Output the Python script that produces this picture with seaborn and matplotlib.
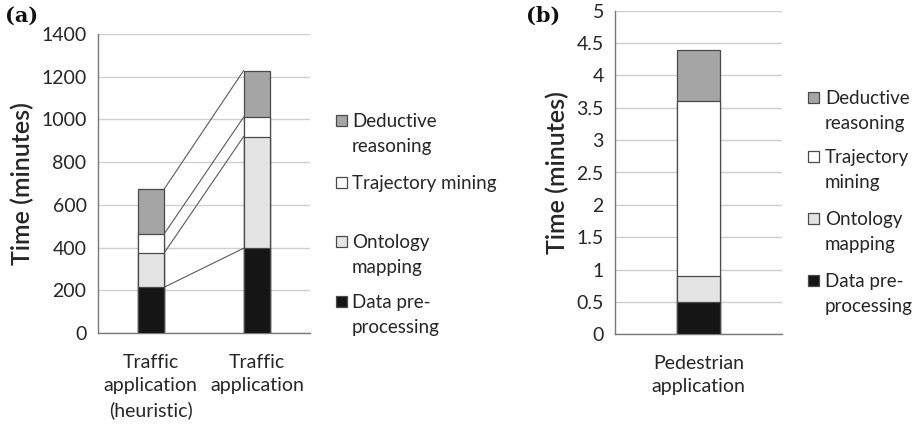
import numpy as np
import pandas as pd
import matplotlib
matplotlib.use("Agg")
import matplotlib.pyplot as plt
import seaborn as sns
from matplotlib.patches import Rectangle
from matplotlib.ticker import FuncFormatter

sns.set_theme(style="white")
plt.rcParams["font.family"] = ["Lato", "DejaVu Sans"]

# data
stages = ["Data pre-processing", "Ontology mapping", "Trajectory mining", "Deductive reasoning"]
stage_colors = ["#151515", "#e4e4e4", "#ffffff", "#a5a5a5"]

apps_a = ["Traffic\napplication\n(heuristic)", "Traffic\napplication"]
data_pre_a = [214, 397]
ontology_a = [160, 523]
trajectory_a = [89, 91]
deductive_a = [210, 218]

apps_b = ["Pedestrian\napplication"]
data_pre_b = [0.5]
ontology_b = [0.4]
trajectory_b = [2.7]
deductive_b = [0.8]

W, H = 921, 425
fig = plt.figure(figsize=(W / 100, H / 100), dpi=100)
TXT = "#262626"


def px(x, y):
    return x / W, 1 - y / H


def stacked(ax, apps, layers, width):
    cum = np.cumsum(np.array(layers, dtype=float), axis=0)
    # draw from the top segment down so lower segments sit on top
    for i in range(len(layers) - 1, -1, -1):
        df = pd.DataFrame({"app": apps, "val": cum[i]})
        sns.barplot(data=df, x="app", y="val", color=stage_colors[i], width=width,
                    edgecolor="#4a4a4a", linewidth=0.9, ax=ax, zorder=3,
                    saturation=1)
    return cum


def style(ax):
    ax.grid(axis="y", color="#cfcfcf", linewidth=1.0, zorder=0)
    ax.grid(axis="x", visible=False)
    for s in ["top", "right"]:
        ax.spines[s].set_visible(False)
    for s in ["left", "bottom"]:
        ax.spines[s].set_color("#7a7a7a")
        ax.spines[s].set_linewidth(1.0)
    ax.tick_params(axis="y", length=4, color="#7a7a7a", labelsize=14, labelcolor=TXT, pad=4)
    ax.tick_params(axis="x", length=0, labelsize=14, labelcolor=TXT, pad=15)
    for lab in ax.get_xticklabels():
        lab.set_linespacing(1.45)
    ax.set_xlabel("")
    ax.set_ylabel("Time (minutes)", fontsize=18, color=TXT, fontweight="semibold", labelpad=5)


# ---- panel (a)
ax1 = fig.add_axes([97.7 / W, 1 - 333 / H, 212.3 / W, 299 / H])
layers_a = [data_pre_a, ontology_a, trajectory_a, deductive_a]
cum_a = stacked(ax1, apps_a, layers_a, 0.25)
# series lines between the two stacks
for row in cum_a:
    ax1.plot([0.125, 0.875], [row[0], row[1]], color="#5a5a5a", linewidth=0.8, zorder=2)
ax1.set_xlim(-0.5, 1.5)
ax1.set_ylim(0, 1400)
ax1.set_yticks(range(0, 1401, 200))
style(ax1)

# ---- panel (b)
ax2 = fig.add_axes([615 / W, 1 - 334.3 / H, 166.7 / W, 323.6 / H])
layers_b = [data_pre_b, ontology_b, trajectory_b, deductive_b]
stacked(ax2, apps_b, layers_b, 0.254)
ax2.set_xlim(-0.5, 0.5)
ax2.set_ylim(0, 5)
ax2.set_yticks(np.arange(0, 5.01, 0.5))
ax2.yaxis.set_major_formatter(FuncFormatter(lambda v, p: f"{v:g}"))
style(ax2)


# ---- legends (squares aligned with first text line, like the original)
def legend(entries, sq_x, txt_x):
    for label, color, y in entries:
        x0, y0 = px(sq_x, y + 4)
        fig.add_artist(Rectangle((x0, y0), 11 / W, 11 / H, transform=fig.transFigure,
                                 facecolor=color, edgecolor="#4a4a4a", linewidth=0.9))
        tx, ty = px(txt_x, y - 9)
        fig.text(tx, ty, label, ha="left", va="top", fontsize=13.5, color=TXT, linespacing=1.55)


legend([("Deductive\nreasoning", stage_colors[3], 122),
        ("Trajectory mining", stage_colors[2], 184),
        ("Ontology\nmapping", stage_colors[1], 243),
        ("Data pre-\nprocessing", stage_colors[0], 303)], 336, 352)

legend([("Deductive\nreasoning", stage_colors[3], 99),
        ("Trajectory\nmining", stage_colors[2], 158),
        ("Ontology\nmapping", stage_colors[1], 220),
        ("Data pre-\nprocessing", stage_colors[0], 282)], 808, 825)

# panel letters
fig.text(*px(5, 16), "(a)", fontsize=15, fontweight="bold", family="DejaVu Serif",
         va="center", ha="left", color="#111111")
fig.text(*px(526, 16), "(b)", fontsize=15, fontweight="bold", family="DejaVu Serif",
         va="center", ha="left", color="#111111")

fig.savefig("out.png", dpi=100)
